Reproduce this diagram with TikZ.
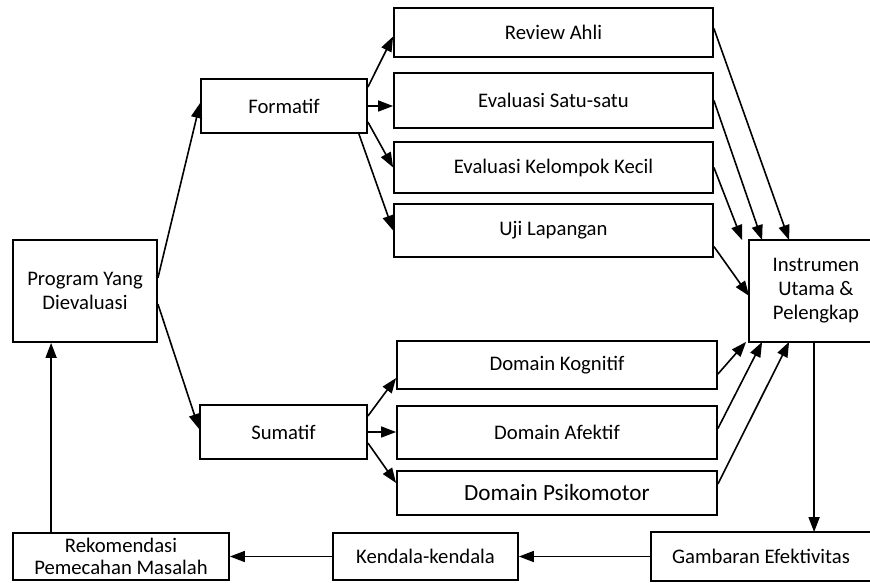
\documentclass[tikz,border=0pt]{standalone}
\usepackage{fontspec}
\setmainfont{Carlito}
\usetikzlibrary{arrows.meta,calc}
\begin{document}
\begin{tikzpicture}[x=1pt,y=-1pt,
  box/.style={draw, line width=1.8pt, inner sep=0pt, align=center, font=\fontsize{20.7}{24}\selectfont},
  openbox/.style={box, draw=none},
  arr/.style={line width=1.6pt, -{Triangle[length=15pt,width=11pt]}}]
\useasboundingbox (0,0) rectangle (870,582);
\clip (0,0) rectangle (870,582);
\fill[white] (0,0) rectangle (870,582);
% nodes
\node[box, minimum width=144, minimum height=102] (prog) at (85,291) {Program Yang\\Dievaluasi};
\node[box, minimum width=166, minimum height=54] (form) at (284,106) {Formatif};
\node[box, minimum width=167, minimum height=54] (sum) at (283.5,432) {Sumatif};
\node[box, minimum width=319, minimum height=49] (rev) at (553.5,32.5) {Review Ahli};
\node[box, minimum width=319, minimum height=55] (satu) at (553.5,100.5) {Evaluasi Satu-satu};
\node[box, minimum width=319, minimum height=51] (kel) at (553.5,167.5) {Evaluasi Kelompok Kecil};
\node[box, minimum width=319, minimum height=53] (uji) at (553.5,230.5) {Uji Lapangan};
\node[openbox, minimum width=132, minimum height=100] (inst) at (816,291) {Instrumen\\Utama \&\\Pelengkap};
\draw[line width=1.8pt] ([xshift=20pt]inst.north east) -- (inst.north west) -- (inst.south west) -- ([xshift=20pt]inst.south east);
\node[box, minimum width=320, minimum height=48] (kog) at (557,365) {Domain Kognitif};
\node[box, minimum width=320, minimum height=53] (afe) at (557,432.5) {Domain Afektif};
\node[box, minimum width=320, minimum height=44, font=\fontsize{23.2}{26}\selectfont] (psi) at (557,493) {Domain Psikomotor};
\node[openbox, minimum width=218, minimum height=47] (gam) at (761,556.5) {Gambaran Efektivitas};
\draw[line width=1.8pt] ([xshift=20pt]gam.north east) -- (gam.north west) -- (gam.south west) -- ([xshift=20pt]gam.south east);
\node[box, minimum width=185, minimum height=47] (ken) at (425.5,556.5) {Kendala-kendala};
\node[box, minimum width=216, minimum height=47, font=\fontsize{20.7}{22}\selectfont] (rek) at (121,556.5) {Rekomendasi\\Pemecahan Masalah};
% connectors
\draw[arr] ([yshift=13pt]prog.east) -- ([yshift=3pt]form.west);
\draw[arr] ([yshift=-13pt]prog.east) -- ([yshift=3pt]sum.west);
\draw[arr] ([yshift=19pt]form.east) -- ([yshift=-4pt]rev.west);
\draw[arr] (form.east) -- (form.east -| satu.west);
\draw[arr] ([yshift=-16pt]form.east) -- (kel.west);
\draw[arr] ([xshift=-9pt]form.south east) -- (uji.west);
\draw[arr] ([yshift=16pt]sum.east) -- ([yshift=-13pt]kog.west);
\draw[arr] (sum.east) -- (sum.east -| afe.west);
\draw[arr] ([yshift=-11pt]sum.east) -- ([yshift=10pt]psi.west);
\draw[arr] ([yshift=4pt]rev.east) -- ([xshift=40pt]inst.north west);
\draw[arr] (satu.east) -- ([xshift=13pt]inst.north west);
\draw[arr] (kel.east) -- ([xshift=-7pt]inst.north west);
\draw[arr] ([yshift=-16pt]uji.east) -- ([yshift=-5pt]inst.west);
\draw[arr] ([yshift=-9pt]kog.east) -- ([xshift=-3pt]inst.south west);
\draw[arr] ([yshift=4pt]afe.east) -- ([xshift=13pt]inst.south west);
\draw[arr] ([yshift=9pt]psi.east) -- ([xshift=40pt]inst.south west);
\coordinate (d) at ([xshift=65pt]inst.south west);
\draw[arr] (d) -- (d |- gam.north);
\draw[arr] (gam.west) -- (gam.west -| ken.east);
\draw[arr] (ken.west) -- (ken.west -| rek.east);
\coordinate (r) at ([xshift=39pt]rek.north west);
\draw[arr] (r) -- (r |- prog.south);
\end{tikzpicture}
\end{document}
